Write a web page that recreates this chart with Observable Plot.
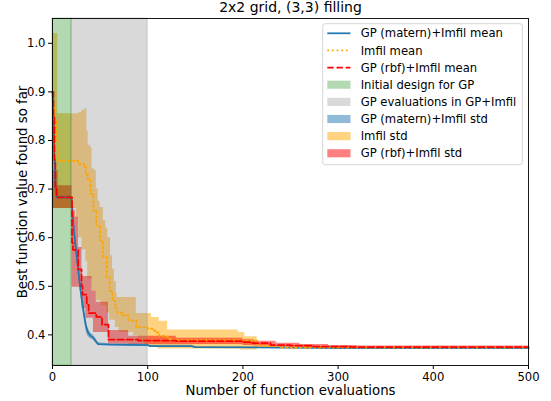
<!DOCTYPE html>
<html><head><meta charset="utf-8">
<script src="https://cdn.jsdelivr.net/npm/d3@7"></script>
<script src="https://cdn.jsdelivr.net/npm/@observablehq/plot@0.6"></script>
<style>body{margin:0;background:#fff}</style>
</head><body><div id="chart"></div>
<script>
// ---- data ----
const titleText = "2x2 grid, (3,3) filling";
const xLabel = "Number of function evaluations";
const yLabel = "Best function value found so far";
const xTicks = [0, 100, 200, 300, 400, 500];
const yTicks = [0.4, 0.5, 0.6, 0.7, 0.8, 0.9, 1.0];

const initialDesign = [0, 20];
const gpEvaluations = [20, 100];

// GP (matern)+Imfil
const maternX    = [0,1,2,3,4.5,20,21,22,23,25,27,29,31,33,35,36.5,38,40,43,46,48,60,100,102,146,150,300,500];
const maternMean = [0.90,0.85,0.76,0.705,0.683,0.683,0.655,0.625,0.605,0.57,0.535,0.50,0.47,0.444,0.42,0.409,0.403,0.398,0.394,0.386,0.381,0.380,0.379,0.377,0.377,0.375,0.373,0.373];
const maternStd  = [0.010,0.010,0.010,0.008,0.003,0.003,0.006,0.008,0.008,0.008,0.008,0.008,0.008,0.008,0.009,0.010,0.008,0.006,0.005,0.004,0.003,0.002,0.002,0.002,0.002,0.001,0.001,0.001];

// Imfil
const imfilX    = [0,2,4,5.5,27,33,35,37,40,43,46,50,53,57,60,63,66,68,73,80,88,100,105,108,112,117,122,126,200,216,240,500];
const imfilMean = [0.87,0.84,0.80,0.758,0.752,0.745,0.73,0.72,0.69,0.656,0.625,0.594,0.56,0.519,0.49,0.47,0.455,0.446,0.44,0.43,0.416,0.413,0.409,0.405,0.398,0.396,0.392,0.389,0.388,0.377,0.374,0.373];
const imfilHiX  = [0,5.5,27.7,31,34.5,36,37.5,40,41.5,44,46,48,50,53.5,56,58,61,63,65,67,68,88,104,112,121,195,202,215,235,270,320,500];
const imfilHi   = [1.02,0.855,0.858,0.862,0.866,0.82,0.79,0.785,0.742,0.738,0.70,0.675,0.662,0.635,0.62,0.60,0.563,0.535,0.51,0.485,0.477,0.444,0.436,0.428,0.41,0.405,0.396,0.38,0.378,0.376,0.375,0.375];
const imfilLoX  = [0,25,27.5,31,35,37,42,46,51,57,60,66,70,85,90,97,111,197,215,300,500];
const imfilLo   = [0.66,0.64,0.60,0.575,0.55,0.515,0.49,0.47,0.46,0.445,0.43,0.415,0.405,0.398,0.385,0.376,0.371,0.369,0.372,0.373,0.373];

// GP (rbf)+Imfil
const rbfX     = [0,1,2,3,4.5,20.5,21.5,27,30.5,31.5,36,38,46,52,58.8,90,130,199,210,229,250,274,313,500];
const rbfMean  = [0.90,0.85,0.76,0.705,0.683,0.59,0.575,0.535,0.50,0.483,0.462,0.445,0.437,0.421,0.39,0.388,0.387,0.385,0.383,0.379,0.378,0.376,0.375,0.375];
const rbfBandX = [0,6,20.5,24,27.3,31,35,41.7,43,46,58.8,80,130,200,212,235,260,290,320,500];
const rbfHi    = [0.738,0.707,0.655,0.642,0.58,0.52,0.52,0.49,0.49,0.467,0.409,0.397,0.393,0.39,0.387,0.383,0.38,0.378,0.377,0.377];
const rbfLo    = [0.66,0.66,0.498,0.498,0.498,0.454,0.434,0.434,0.405,0.405,0.381,0.38,0.38,0.378,0.377,0.375,0.374,0.373,0.373,0.373];

const legendLabels = ["GP (matern)+Imfil mean","Imfil mean","GP (rbf)+Imfil mean","Initial design for GP","GP evaluations in GP+Imfil","GP (matern)+Imfil std","Imfil std","GP (rbf)+Imfil std"];

// ---- tables built from the arrays ----
function stepAt(xs, ys, x) { let v = ys[0]; for (let i = 0; i < xs.length; i++) if (xs[i] <= x) v = ys[i]; return v; }
function band(xa, ya, xb, yb) {
  const xs = Array.from(new Set([...xa, ...xb])).sort((a, b) => a - b);
  return xs.map(x => ({x, lo: stepAt(xa, ya, x), hi: stepAt(xb, yb, x)}));
}
const maternRows = maternX.map((x, i) => ({x, mean: maternMean[i], lo: maternMean[i] - maternStd[i], hi: maternMean[i] + maternStd[i]}));
const imfilRows = imfilX.map((x, i) => ({x, mean: imfilMean[i]}));
const imfilBand = band(imfilLoX, imfilLo, imfilHiX, imfilHi);
const rbfRows = rbfX.map((x, i) => ({x, mean: rbfMean[i]}));
const rbfBand = rbfBandX.map((x, i) => ({x, lo: rbfLo[i], hi: rbfHi[i]}));

const C = {blue: "#1f77b4", orange: "orange", red: "red", green: "green", gray: "gray"};
const FONT = "DejaVu Sans";

const chart = Plot.plot({
  width: 551, height: 401,
  marginLeft: 52, marginRight: 23, marginTop: 18, marginBottom: 36,
  x: {domain: [0, 500]},
  y: {domain: [0.337, 1.051]},
  style: {fontFamily: FONT, background: "white", color: "black", fontSize: "11.6px"},
  marks: [
    Plot.areaY(maternRows, {x: "x", y1: "lo", y2: "hi", fill: C.blue, fillOpacity: 0.5}),
    Plot.areaY(imfilBand, {x: "x", y1: "lo", y2: "hi", fill: C.orange, fillOpacity: 0.5, curve: "step-after"}),
    Plot.areaY(rbfBand, {x: "x", y1: "lo", y2: "hi", fill: C.red, fillOpacity: 0.5, curve: "step-after"}),
    Plot.rect([initialDesign], {x1: d => d[0], x2: d => d[1], fill: C.green, fillOpacity: 0.3, stroke: C.green, strokeOpacity: 0.3}),
    Plot.rect([gpEvaluations], {x1: d => d[0], x2: d => d[1], fill: C.gray, fillOpacity: 0.3, stroke: C.gray, strokeOpacity: 0.3}),
    Plot.line(maternRows, {x: "x", y: "mean", stroke: C.blue, strokeWidth: 1.75}),
    Plot.line(imfilRows, {x: "x", y: "mean", stroke: C.orange, strokeWidth: 1.75, strokeDasharray: "1.75 2.9", curve: "step-after"}),
    Plot.line(rbfRows, {x: "x", y: "mean", stroke: C.red, strokeWidth: 1.75, strokeDasharray: "6.4 2.8", curve: "step-after"}),
    Plot.frame({stroke: "black", strokeWidth: 0.9}),
    Plot.axisX({ticks: xTicks, tickSize: 4, tickPadding: 3, label: null, fontSize: 11.6}),
    Plot.axisY({ticks: yTicks, tickFormat: d3.format(".1f"), tickSize: 4, tickPadding: 3, label: null, fontSize: 11.6}),
    Plot.text([titleText], {text: d => d, frameAnchor: "top", dy: -6.5, lineAnchor: "bottom", fontSize: 14}),
    Plot.text([xLabel], {text: d => d, frameAnchor: "bottom", dy: 29, lineAnchor: "bottom", fontSize: 13.3}),
    Plot.text([yLabel], {text: d => d, frameAnchor: "left", dx: -26, rotate: -90, lineAnchor: "bottom", textAnchor: "middle", fontSize: 13.3})
  ]
});
document.getElementById("chart").appendChild(chart);

// ---- legend (inside the axes, upper right) ----
const styles = [
  {kind: "line", color: C.blue, dash: null},
  {kind: "line", color: C.orange, dash: "1.75 2.9"},
  {kind: "line", color: C.red, dash: "6.4 2.8"},
  {kind: "patch", color: C.green, op: 0.3},
  {kind: "patch", color: C.gray, op: 0.3},
  {kind: "patch", color: C.blue, op: 0.5},
  {kind: "patch", color: C.orange, op: 0.5},
  {kind: "patch", color: C.red, op: 0.5}
];
const lg = d3.select(chart).append("g").attr("font-family", FONT).attr("font-size", 11.6).attr("text-anchor", "start");
lg.append("rect").attr("x", 322.7).attr("y", 23.7).attr("width", 199.6).attr("height", 141).attr("rx", 2.5)
  .attr("fill", "white").attr("fill-opacity", 0.8).attr("stroke", "#cccccc").attr("stroke-opacity", 0.8);
legendLabels.forEach((label, i) => {
  const cy = 33.3 + i * 17.14, s = styles[i];
  if (s.kind === "line") {
    const l = lg.append("line").attr("x1", 327.3).attr("x2", 350.5).attr("y1", cy).attr("y2", cy)
      .attr("stroke", s.color).attr("stroke-width", 1.75);
    if (s.dash) l.attr("stroke-dasharray", s.dash);
  } else {
    lg.append("rect").attr("x", 327.3).attr("y", cy - 4.05).attr("width", 23.2).attr("height", 8.1)
      .attr("fill", s.color).attr("fill-opacity", s.op);
  }
  lg.append("text").attr("x", 360.7).attr("y", cy).attr("dy", "0.36em").attr("fill", "black").attr("text-anchor", "start").text(label);
});
</script></body></html>
